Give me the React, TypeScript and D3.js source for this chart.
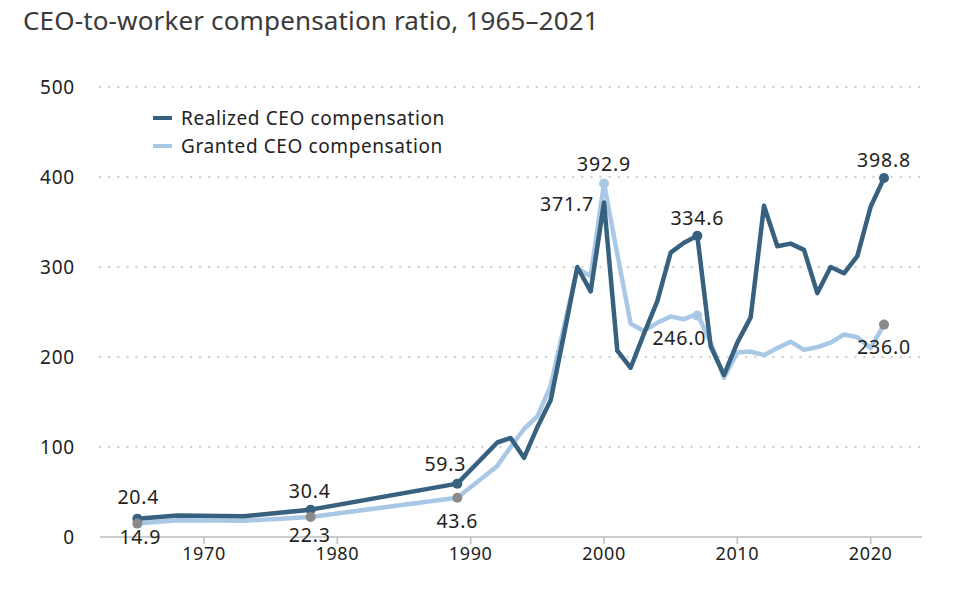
import * as d3 from "d3";

const WIDTH = 960;
const HEIGHT = 599;
const MARGIN = { left: 100, right: 38, top: 87, bottom: 62 };

const DARK = "#38607f";
const LIGHT = "#a8c8e6";
const GRAY = "#8a8a8a";

const YEARS = [
  1965, 1968, 1973, 1978, 1989, 1992, 1993, 1994, 1995, 1996, 1997, 1998, 1999,
  2000, 2001, 2002, 2003, 2004, 2005, 2006, 2007, 2008, 2009, 2010, 2011, 2012,
  2013, 2014, 2015, 2016, 2017, 2018, 2019, 2020, 2021,
];
const REALIZED = [
  20.4, 24, 23, 30.4, 59.3, 105, 110, 88, 122, 152, 225, 300, 273, 371.7, 207,
  188, 226, 262, 316, 327, 334.6, 212, 180, 216, 244, 368, 323, 326, 319, 271,
  300, 293, 312, 367, 398.8,
];
const GRANTED = [
  14.9, 18.5, 18, 22.3, 43.6, 79, 100, 120, 134, 168, 234, 298, 290, 392.9, 314,
  237, 229, 238, 245, 242, 248, 216, 177, 205, 206, 202, 210, 217, 208, 211,
  216, 225, 222, 210, 236.0,
];
const Y_TICKS = [0, 100, 200, 300, 400, 500];
const X_TICKS = [1970, 1980, 1990, 2000, 2010, 2020];
const SERIES = ["Realized CEO compensation", "Granted CEO compensation"];

// labelled points: [year, value, series, dx, dy, dot colour]
const LABELS: [number, number, number, number, number, string | null][] = [
  [1965, 20.4, 0, 1, -21, DARK],
  [1965, 14.9, 1, 3, 14, GRAY],
  [1978, 30.4, 0, -1, -18, DARK],
  [1978, 22.3, 1, -1, 18, GRAY],
  [1989, 59.3, 0, -12, -19, DARK],
  [1989, 43.6, 1, 0, 23, GRAY],
  [2000, 371.7, 0, -37, 2, null],
  [2000, 392.9, 1, 0, -19, LIGHT],
  [2007, 334.6, 0, 0, -18, DARK],
  [2007, 246.0, 1, -18, 23, LIGHT],
  [2021, 398.8, 0, 0, -18, DARK],
  [2021, 236.0, 1, 0, 23, GRAY],
];

export default function App() {
  const x = d3
    .scaleLinear()
    .domain([1962.2, 2023.85])
    .range([MARGIN.left, WIDTH - MARGIN.right]);
  const y = d3
    .scaleLinear()
    .domain([0, 500])
    .range([537, MARGIN.top]);

  const line = d3
    .line<[number, number]>()
    .x((d) => x(d[0]))
    .y((d) => y(d[1]));

  const realized = YEARS.map((yr, i) => [yr, REALIZED[i]] as [number, number]);
  const granted = YEARS.map((yr, i) => [yr, GRANTED[i]] as [number, number]);
  const font = "'Noto Sans', 'Open Sans', sans-serif";

  return (
    <svg
      width={WIDTH}
      height={HEIGHT}
      style={{ position: "absolute", left: 0, top: 0, background: "#fff" }}
      fontFamily={font}
    >
      <text x={23} y={30} fontSize={26} fill="#3a3a3a" letterSpacing={0.15}>
        CEO-to-worker compensation ratio, 1965–2021
      </text>

      {Y_TICKS.map((t) => (
        <g key={t}>
          {t > 0 && (
            <line
              x1={MARGIN.left}
              x2={WIDTH - MARGIN.right}
              y1={y(t)}
              y2={y(t)}
              stroke="#d4d4d4"
              strokeWidth={2.5}
              strokeDasharray="0.1 9"
              strokeLinecap="round"
            />
          )}
          <text
            x={75}
            y={y(t)}
            dy="0.35em"
            textAnchor="end"
            fontSize={19}
            letterSpacing={0.8}
            fill="#222"
          >
            {t}
          </text>
        </g>
      ))}

      <line
        x1={MARGIN.left}
        x2={WIDTH - MARGIN.right}
        y1={y(0)}
        y2={y(0)}
        stroke="#bdbdbd"
        strokeWidth={1.5}
      />
      {X_TICKS.map((t) => (
        <g key={t}>
          <line x1={x(t)} x2={x(t)} y1={y(0)} y2={y(0) + 7} stroke="#bdbdbd" strokeWidth={1.5} />
          <text x={x(t)} y={560} textAnchor="middle" fontSize={18} letterSpacing={0.6} fill="#222">
            {t}
          </text>
        </g>
      ))}

      <path d={line(granted) || ""} fill="none" stroke={LIGHT} strokeWidth={4.5} strokeLinejoin="round" />
      <path d={line(realized) || ""} fill="none" stroke={DARK} strokeWidth={4.5} strokeLinejoin="round" />

      {LABELS.map(([yr, v, s, dx, dy, dot], i) => (
        <g key={i}>
          {dot && <circle cx={x(yr)} cy={y(v)} r={5} fill={dot} />}
          <text
            x={x(yr) + dx}
            y={y(v) + dy}
            dy="0.35em"
            textAnchor="middle"
            fontSize={19.5}
            letterSpacing={0.8}
            fill="#222"
          >
            {v.toFixed(1)}
          </text>
        </g>
      ))}

      {SERIES.map((name, i) => (
        <g key={name} transform={`translate(153, ${118 + i * 28})`}>
          <line x1={0} x2={19} y1={0} y2={0} stroke={i === 0 ? DARK : LIGHT} strokeWidth={4} />
          <text x={28} y={0} dy="0.35em" fontSize={19} letterSpacing={0.6} fill="#222">
            {name}
          </text>
        </g>
      ))}
    </svg>
  );
}
